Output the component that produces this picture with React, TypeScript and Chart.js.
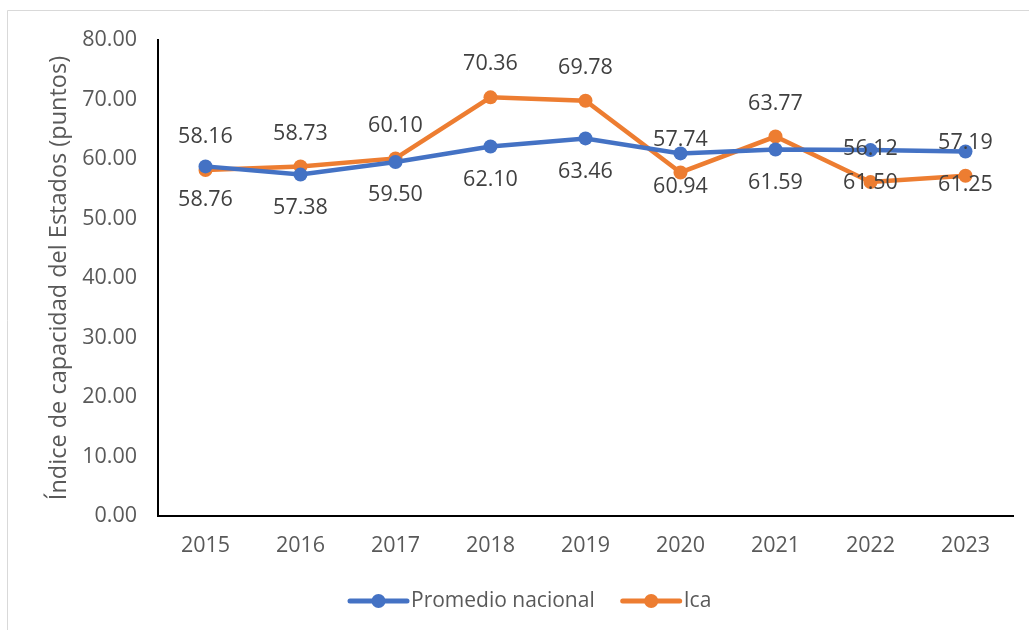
import React, { useEffect, useRef } from "react";
import { Chart, registerables } from "chart.js";

Chart.register(...registerables);

const years = ["2015", "2016", "2017", "2018", "2019", "2020", "2021", "2022", "2023"];
const promedioNacional = [58.76, 57.38, 59.5, 62.1, 63.46, 60.94, 61.59, 61.5, 61.25];
const ica = [58.16, 58.73, 60.1, 70.36, 69.78, 57.74, 63.77, 56.12, 57.19];
const seriesNames = ["Promedio nacional", "Ica"];
const seriesColors = ["#4472C4", "#ED7D31"];
const yTitle = "Índice de capacidad del Estados (puntos)";

const FONT = "'Open Sans', sans-serif";

const decorPlugin = {
  id: "decor",
  beforeDraw(chart: any) {
    const ctx = chart.ctx;
    ctx.save();
    ctx.fillStyle = "#ffffff";
    ctx.fillRect(0, 0, chart.width, chart.height);
    ctx.strokeStyle = "#d9d9d9";
    ctx.lineWidth = 1;
    ctx.beginPath();
    ctx.moveTo(7.5, chart.height + 5);
    ctx.lineTo(7.5, 10.5);
    ctx.lineTo(chart.width + 5, 10.5);
    ctx.stroke();
    ctx.restore();
  },
  afterDatasetsDraw(chart: any) {
    const ctx = chart.ctx;
    ctx.save();
    ctx.font = `21.5px ${FONT}`;
    ctx.fillStyle = "#404040";
    ctx.textAlign = "center";
    ctx.textBaseline = "middle";
    chart.data.datasets.forEach((ds: any, i: number) => {
      const meta = chart.getDatasetMeta(i);
      const off = i === 0 ? 33 : -33;
      meta.data.forEach((pt: any, j: number) => {
        ctx.fillText(Number(ds.data[j]).toFixed(2), pt.x, pt.y + off);
      });
    });
    // legend
    ctx.font = `21px ${FONT}`;
    const ly = 601;
    let x = 350;
    chart.data.datasets.forEach((ds: any, i: number) => {
      const color = ds.borderColor;
      ctx.strokeStyle = color;
      ctx.lineWidth = 5;
      ctx.lineCap = "round";
      ctx.beginPath();
      ctx.moveTo(x, ly);
      ctx.lineTo(x + 57, ly);
      ctx.stroke();
      ctx.fillStyle = color;
      ctx.beginPath();
      ctx.arc(x + 28.5, ly, 7, 0, Math.PI * 2);
      ctx.fill();
      ctx.fillStyle = "#595959";
      ctx.textAlign = "left";
      ctx.fillText(ds.label, x + 61, ly);
      const w = ctx.measureText(ds.label).width;
      x = x + 61 + w + 28;
    });
    ctx.restore();
  },
};

export default function App() {
  const ref = useRef<HTMLCanvasElement | null>(null);
  useEffect(() => {
    if (!ref.current) return;
    const chart = new Chart(ref.current, {
      type: "line",
      data: {
        labels: years,
        datasets: [
          {
            label: seriesNames[0],
            data: promedioNacional,
            borderColor: seriesColors[0],
            backgroundColor: seriesColors[0],
            borderWidth: 4.5,
            pointRadius: 7,
            pointHoverRadius: 7,
            pointBorderWidth: 0,
            tension: 0,
          },
          {
            label: seriesNames[1],
            data: ica,
            borderColor: seriesColors[1],
            backgroundColor: seriesColors[1],
            borderWidth: 4.5,
            pointRadius: 7,
            pointHoverRadius: 7,
            pointBorderWidth: 0,
            tension: 0,
          },
        ],
      },
      options: {
        animation: false,
        responsive: false,
        maintainAspectRatio: false,
        layout: { padding: { top: 40, right: 16, left: 0, bottom: 0 } },
        plugins: {
          legend: { display: false },
          tooltip: { enabled: false },
          title: { display: false },
        },
        scales: {
          x: {
            type: "category",
            offset: true,
            grid: { drawOnChartArea: false, drawTicks: false },
            border: { color: "#000000", width: 2 },
            ticks: {
              color: "#595959",
              font: { family: FONT, size: 21.5 },
              padding: 17,
              maxRotation: 0,
            },
            afterFit: (scale: any) => {
              scale.height = 114;
            },
          },
          y: {
            min: 0,
            max: 80,
            grid: { drawOnChartArea: false, drawTicks: false },
            border: { color: "#000000", width: 2 },
            ticks: {
              stepSize: 10,
              color: "#595959",
              font: { family: FONT, size: 21.5 },
              padding: 21,
              callback: (v: any) => Number(v).toFixed(2),
            },
            title: {
              display: true,
              text: yTitle,
              color: "#595959",
              font: { family: FONT, size: 23.5, weight: "normal" },
              padding: { top: 45, bottom: 0 },
            },
            afterFit: (scale: any) => {
              scale.width = 158;
            },
          },
        },
      },
      plugins: [decorPlugin],
    });
    return () => chart.destroy();
  }, []);
  return (
    <div style={{ position: "fixed", left: 0, top: 0, width: 1029, height: 630 }}>
      <canvas ref={ref} width={1029} height={630} style={{ width: 1029, height: 630 }} />
    </div>
  );
}
